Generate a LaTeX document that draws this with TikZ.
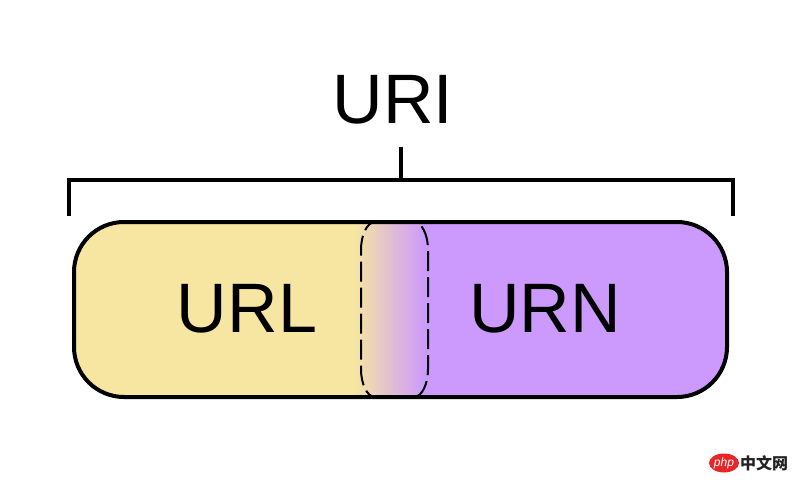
\documentclass[tikz,border=0pt]{standalone}
\usepackage{fontspec}
\usetikzlibrary{shapes.geometric}
\setmainfont{Liberation Sans}
\newfontfamily\cjkfont{Noto Sans CJK SC}
\definecolor{urlyellow}{HTML}{F6E6A2}
\definecolor{urnpurple}{HTML}{CC9AFD}
\definecolor{phpred}{HTML}{E8262A}
\definecolor{wmgray}{HTML}{222222}
\begin{document}
\begin{tikzpicture}[x=1pt,y=-1pt,
  bigtext/.style={font=\fontsize{70}{84}\selectfont, inner sep=0pt, anchor=base},
  bracketline/.style={line width=4pt},
  outline/.style={line width=4pt, rounded corners=50pt},
  overlapline/.style={line width=2pt, dash pattern=on 20pt off 6pt, dash phase=4pt}]
\useasboundingbox (0,0) rectangle (800,482);
% fills
\begin{scope}
  \clip[rounded corners=50pt] (74,222) rectangle (727,397);
  \fill[urlyellow] (60,210) rectangle (355,410);
  \fill[urnpurple] (424,210) rectangle (740,410);
  \shade[left color=urlyellow, right color=urnpurple] (354,210) rectangle (425,410);
\end{scope}
% overlap region outline
\draw[overlapline] (375,222) -- (414,222)
  .. controls (421.7,222) and (428,234.5) .. (428,250) -- (428,369)
  .. controls (428,384.5) and (421.7,397) .. (414,397) -- (375,397)
  .. controls (367.3,397) and (361,384.5) .. (361,369) -- (361,250)
  .. controls (361,234.5) and (367.3,222) .. cycle;
\draw[outline] (74,222) rectangle (727,397);
% bracket
\coordinate (bl) at (69,216);
\coordinate (blc) at (69,180);
\coordinate (brc) at (733,180);
\coordinate (br) at (733,216);
\coordinate (tm) at (401,180);
\coordinate (tt) at (401,147);
\draw[bracketline] (bl) -- (blc) -- (brc) -- (br);
\draw[bracketline] (tm) -- (tt);
% labels
\node[bigtext] (uri) at (393,123) {URI};
\node[bigtext] (url) at (247,332) {URL};
\node[bigtext] (urn) at (545,332) {URN};
% watermark
\node[ellipse, fill=phpred, minimum width=30pt, minimum height=19pt, inner sep=0pt, text=white,
  font=\fontsize{12}{12}\selectfont\itshape] (php) at (724,463) {php};
\node[anchor=west, inner sep=0pt, text=wmgray, font=\cjkfont\fontsize{16}{16}\selectfont\bfseries] (cn) at (740,463) {中文网};
\end{tikzpicture}
\end{document}
